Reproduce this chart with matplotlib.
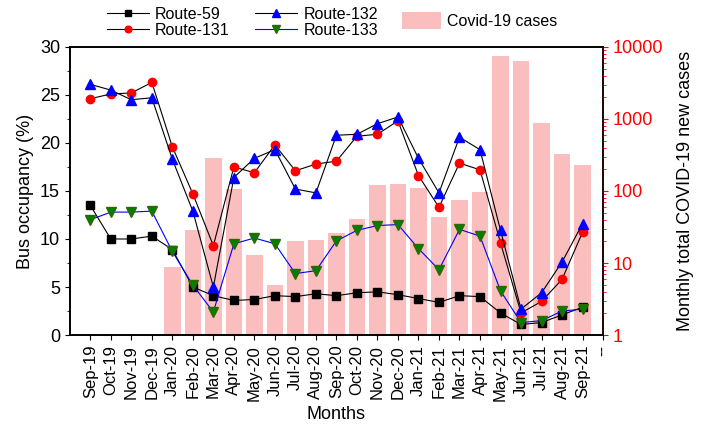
import matplotlib
matplotlib.use("Agg")
import matplotlib.pyplot as plt
from matplotlib.ticker import MultipleLocator, LogLocator, NullFormatter
plt.rcParams['font.family'] = ['Liberation Sans', 'DejaVu Sans']

months = ["Sep-19","Oct-19","Nov-19","Dec-19","Jan-20","Feb-20","Mar-20","Apr-20","May-20","Jun-20",
          "Jul-20","Aug-20","Sep-20","Oct-20","Nov-20","Dec-20","Jan-21","Feb-21","Mar-21","Apr-21",
          "May-21","Jun-21","Jul-21","Aug-21","Sep-21"]
route59 = [13.5,10.0,10.0,10.3,8.9,5.0,4.1,3.6,3.7,4.1,4.0,4.3,4.1,4.4,4.5,4.2,3.8,3.4,4.1,4.0,2.3,1.1,1.3,2.1,2.9]
route131 = [24.6,25.1,25.2,26.3,19.6,14.7,9.3,17.5,16.9,19.8,17.1,17.8,18.1,20.7,20.9,22.3,16.6,13.3,17.9,17.2,9.6,2.3,3.5,5.8,10.7]
route132 = [26.1,25.5,24.5,24.7,18.3,12.9,5.0,16.4,18.4,19.3,15.2,14.8,20.8,20.9,22.0,22.7,18.4,14.8,20.6,19.3,10.9,2.7,4.4,7.6,11.6]
route133 = [12.0,12.8,12.8,12.9,8.7,5.2,2.4,9.5,10.1,9.5,6.4,6.7,9.8,10.9,11.4,11.5,9.0,6.8,11.0,10.3,4.6,1.3,1.5,2.5,2.7]
covid_months = months[4:]
covid_cases = [8.9,28.7,285,107,12.9,4.9,20,20.9,25.8,40.8,121,125,111,43.5,75,98,7500,6390,870,324,230]

fig = plt.figure(figsize=(7.12,4.34), dpi=100)
ax = fig.add_axes([0.098,0.228,0.749,0.664])
ax2 = ax.twinx()
x = list(range(len(months)))
cx = list(range(4, len(months)))
ax2.bar(cx, [c-1 for c in covid_cases], bottom=1, width=0.8, color='#f9a8a8', alpha=0.75, label='Covid-19 cases')
ax2.set_yscale('log')
ax2.set_ylim(1,10000)
ax.set_zorder(ax2.get_zorder()+1); ax.patch.set_visible(False)

ms = 6
l1, = ax.plot(x, route59, '-', color='black', lw=0.8, marker='s', mfc='black', mec='black', ms=ms-0.5, label='Route-59')
l2, = ax.plot(x, route131, '-', color='black', lw=0.8, marker='o', mfc='red', mec='red', ms=ms, label='Route-131')
l3, = ax.plot(x, route132, '-', color='black', lw=0.8, marker='^', mfc='blue', mec='blue', ms=ms+0.5, label='Route-132')
l4, = ax.plot(x, route133, '-', color='blue', lw=0.8, marker='v', mfc='green', mec='#336600', ms=ms+0.5, label='Route-133')

for s in ['left','bottom','top','right']:
    ax.spines[s].set_linewidth(1.2); ax2.spines[s].set_linewidth(1.2)
ax.set_xlim(-1,25)
ax.set_ylim(0,30)
ax.set_xticks(list(range(0,26)))
ax.set_xticklabels(months+['--'], rotation=90, fontsize=12)
ax.yaxis.set_major_locator(MultipleLocator(5))
ax.yaxis.set_minor_locator(MultipleLocator(2.5))
ax.tick_params(axis='y', labelsize=13)
ax.set_ylabel('Bus occupancy (%)', fontsize=13)
ax.set_xlabel('Months', fontsize=13)

red = '#ff0000'
ax2.spines['right'].set_color(red)
ax2.tick_params(axis='y', which='both', colors=red, labelsize=13)
ax2.yaxis.set_minor_locator(LogLocator(base=10, subs=range(2,10)))
ax2.yaxis.set_minor_formatter(NullFormatter())
ax2.set_yticks([1,10,100,1000,10000]); ax2.set_yticklabels(['1','10','100','1000','10000'])
ax2.set_ylabel('Monthly total COVID-19 new cases', fontsize=13, labelpad=10)

fig.legend(handles=[l1,l2,l3,l4], loc='upper left', bbox_to_anchor=(0.135,1.01), ncol=2,
           frameon=False, fontsize=11.5, handlelength=2.6, labelspacing=0.05, columnspacing=1.6,
           handletextpad=0.4, borderpad=0.2, markerscale=0.8)
fig.legend(loc='upper left', bbox_to_anchor=(0.545,1.005), frameon=False, fontsize=11.5,
           handles=ax2.containers[0:1], labels=['Covid-19 cases'], handlelength=2.4, handleheight=1.2,
           handletextpad=0.4)
fig.savefig('out.png', dpi=100)
